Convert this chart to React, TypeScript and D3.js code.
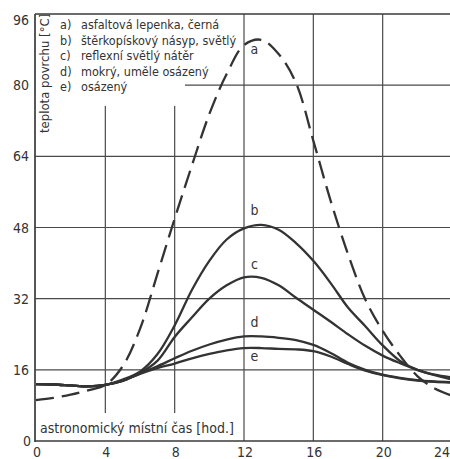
import { useEffect, useRef } from "react";
import * as d3 from "d3";

// hodiny (astronomický místní čas)
const hours = [0, 1, 2, 3, 4, 5, 6, 7, 8, 9, 10, 11, 12, 13, 14, 15, 16, 17, 18, 19, 20, 21, 22, 23, 24];

// teplota povrchu [°C] for each surface
const curveA = [9.2, 9.7, 10.4, 11.4, 12.6, 16.8, 25.2, 37.5, 50, 62, 73.5, 82.5, 89, 90.2, 87, 80.5, 67.5, 54, 42, 31.8, 24.8, 19.2, 14.6, 11.8, 10.2];
const curveB = [12.8, 12.7, 12.5, 12.3, 12.6, 13.8, 15.6, 19.5, 26, 34, 40.5, 45.3, 47.8, 48.6, 47.5, 44.5, 40.5, 35.5, 30, 25.8, 21.5, 18, 16, 14.9, 14.3];
const curveC = [12.8, 12.7, 12.5, 12.3, 12.6, 13.6, 15.3, 18, 23.4, 27.8, 32, 35, 36.8, 36.7, 35, 32.2, 29.5, 26.8, 24, 21.4, 19.2, 17.5, 16, 14.8, 13.8];
const curveD = [12.8, 12.7, 12.5, 12.3, 12.6, 13.5, 15.2, 16.8, 18.6, 20.3, 21.7, 22.8, 23.5, 23.5, 23.2, 22.7, 21.6, 19.8, 17.6, 16, 14.9, 14.2, 13.7, 13.4, 13.2];
const curveE = [12.8, 12.7, 12.5, 12.3, 12.6, 13.5, 15.1, 16.4, 17.4, 18.6, 19.6, 20.4, 20.9, 20.9, 20.7, 20.6, 20.2, 19, 17.3, 15.8, 14.8, 14.1, 13.6, 13.3, 13.1];

const curveLetters = ["a", "b", "c", "d", "e"];
const legendLetters = ["a)", "b)", "c)", "d)", "e)"];
const legendLabels = [
  "asfaltová lepenka, černá",
  "štěrkopískový násyp, světlý",
  "reflexní světlý nátěr",
  "mokrý, uměle osázený",
  "osázený",
];

const xTicks = [0, 4, 8, 12, 16, 20, 24];
const yTicks = [0, 16, 32, 48, 64, 80, 96];

const App = () => {
  const ref = useRef<SVGSVGElement | null>(null);

  useEffect(() => {
    const width = 450;
    const height = 459;
    const ink = "#3a3a3a";
    const font = "'DejaVu Sans Condensed', 'Liberation Sans Narrow', sans-serif";

    const svg = d3.select(ref.current);
    svg.selectAll("*").remove();
    svg.attr("width", width).attr("height", height);

    svg.append("rect").attr("width", width).attr("height", height).attr("fill", "#fff");

    const x = d3.scaleLinear().domain([0, 24]).range([36, 452]);
    const y = d3.scaleLinear().domain([0, 96]).range([441, 14]);

    const grid = svg.append("g").attr("stroke", "#4a4a4a").attr("stroke-width", 1.2);

    // vertical grid lines (4 and 8 are short, they leave room for legend and title)
    xTicks.slice(1, -1).forEach((t) => {
      const short = t < 12;
      grid
        .append("line")
        .attr("x1", x(t))
        .attr("x2", x(t))
        .attr("y1", short ? 106 : y(96))
        .attr("y2", short ? 413 : y(0));
    });

    // horizontal grid lines
    yTicks.slice(1, -1).forEach((t) => {
      grid
        .append("line")
        .attr("x1", t === 80 ? 185 : x(0) - 1)
        .attr("x2", width)
        .attr("y1", y(t))
        .attr("y2", y(t));
    });

    // frame
    const frame = svg.append("g").attr("stroke", ink).attr("stroke-width", 1.7).attr("fill", "none");
    frame.append("line").attr("x1", 35).attr("x2", 35).attr("y1", y(96)).attr("y2", y(0) + 1);
    frame.append("line").attr("x1", 35).attr("x2", width).attr("y1", y(96)).attr("y2", y(96));
    frame.append("line").attr("x1", 35).attr("x2", width).attr("y1", y(0)).attr("y2", y(0));

    // tick labels
    svg
      .append("g")
      .selectAll("text")
      .data(yTicks)
      .enter()
      .append("text")
      .attr("x", (d) => (d === 0 ? 31 : 29))
      .attr("y", (d) => y(d) + (d === 96 ? 6 : 0))
      .attr("dy", "0.36em")
      .attr("text-anchor", "end")
      .attr("font-family", font)
      .attr("font-size", 14)
      .attr("fill", "#333")
      .text((d) => d);

    svg
      .append("g")
      .selectAll("text")
      .data(xTicks)
      .enter()
      .append("text")
      .attr("x", (d) => (d === 24 ? width : x(d) + 1))
      .attr("y", 457)
      .attr("text-anchor", (d) => (d === 24 ? "end" : "middle"))
      .attr("font-family", font)
      .attr("font-size", 14)
      .attr("fill", "#333")
      .text((d) => d);

    // axis titles
    svg
      .append("text")
      .attr("x", 40)
      .attr("y", 433)
      .attr("font-family", font)
      .attr("font-size", 14)
      .attr("fill", "#333")
      .text("astronomický místní čas [hod.]");

    svg
      .append("text")
      .attr("transform", "translate(49,133) rotate(-90)")
      .attr("font-family", font)
      .attr("font-size", 13)
      .attr("fill", "#333")
      .text("teplota povrchu [°C]");

    // legend
    const legend = svg.append("g").attr("font-family", font).attr("font-size", 12.5).attr("fill", "#333");
    legendLabels.forEach((label, i) => {
      const by = 29 + i * 15.6;
      legend.append("text").attr("x", 60).attr("y", by).text(legendLetters[i]);
      legend.append("text").attr("x", 81).attr("y", by).text(label);
    });

    // curves
    const series = [curveA, curveB, curveC, curveD, curveE];
    const line = d3
      .line<number>()
      .x((_, i) => x(hours[i]))
      .y((d) => y(d))
      .curve(d3.curveCatmullRom.alpha(0.5));

    series.forEach((values, i) => {
      svg
        .append("path")
        .attr("d", line(values))
        .attr("fill", "none")
        .attr("stroke", "#333")
        .attr("stroke-width", 2.3)
        .attr("stroke-dasharray", i === 0 ? "18,8" : null);
    });

    // curve letters near each peak
    const labelOffset = [14, -10, -8, -9, 13];
    series.forEach((values, i) => {
      const peak = d3.max(values) as number;
      svg
        .append("text")
        .attr("x", x(12.6))
        .attr("y", y(peak) + labelOffset[i])
        .attr("text-anchor", "middle")
        .attr("font-family", font)
        .attr("font-size", 14)
        .attr("fill", "#333")
        .text(curveLetters[i]);
    });

    return () => {
      d3.select(ref.current).selectAll("*").remove();
    };
  }, []);

  return <svg ref={ref} style={{ position: "absolute", left: 0, top: 0 }} />;
};

export default App;
